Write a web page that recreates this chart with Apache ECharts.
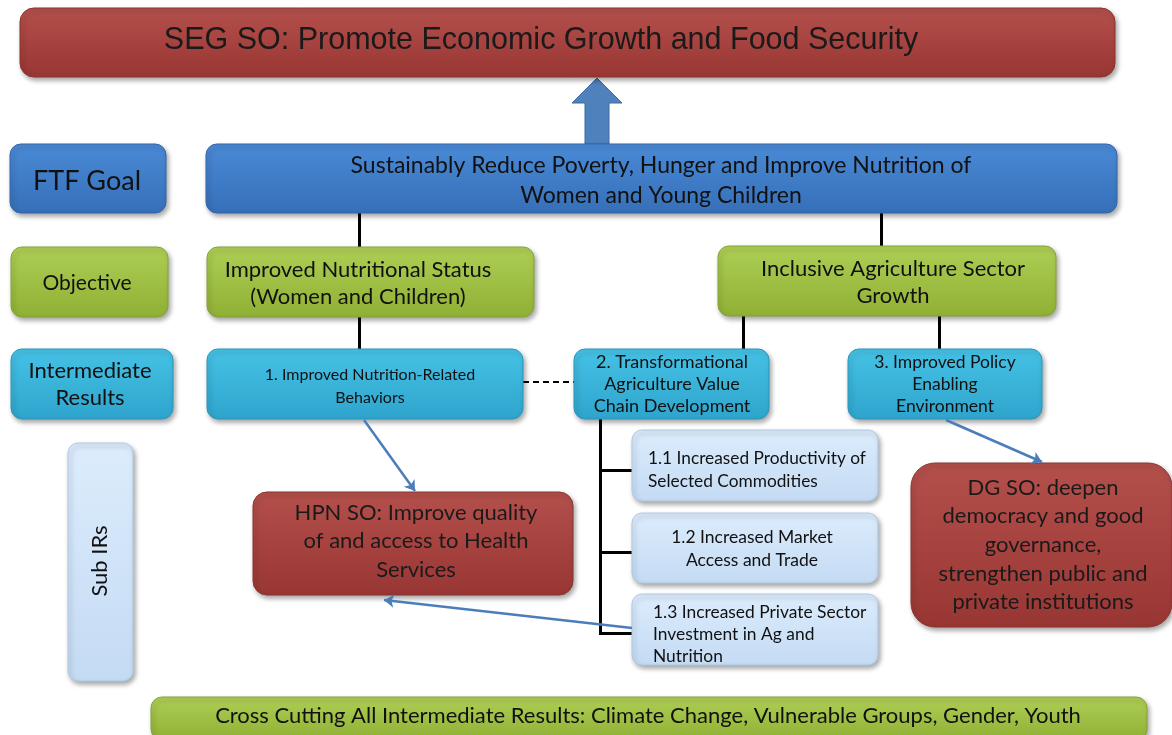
<!DOCTYPE html>
<html>
<head>
<meta charset="utf-8">
<script src="https://cdn.jsdelivr.net/npm/echarts@6/dist/echarts.min.js"></script>
<style>
  html, body { margin: 0; padding: 0; background: #fff; }
  #chart { width: 1172px; height: 735px; }
</style>
</head>
<body>
<div id="chart"></div>
<script>
// box labels
const boxLabels = [
  'SEG SO: Promote Economic Growth and Food Security',
  'FTF Goal',
  'Sustainably Reduce Poverty, Hunger and Improve Nutrition of\nWomen and Young Children',
  'Objective',
  'Improved Nutritional Status\n(Women and Children)',
  'Inclusive Agriculture Sector\nGrowth',
  'Intermediate\nResults',
  '1. Improved Nutrition-Related\nBehaviors',
  '2. Transformational\nAgriculture Value\nChain Development',
  '3. Improved Policy\nEnabling\nEnvironment',
  'Sub IRs',
  'HPN SO: Improve quality\nof and access to Health\nServices',
  '1.1 Increased Productivity of\nSelected Commodities',
  '1.2 Increased Market\nAccess and Trade',
  '1.3 Increased Private Sector\nInvestment in Ag and\nNutrition',
  'DG SO: deepen\ndemocracy and good\ngovernance,\nstrengthen public and\nprivate institutions',
  'Cross Cutting All Intermediate Results: Climate Change, Vulnerable Groups, Gender, Youth'
];
// box extents in diagram units: [left, top, right, bottom]
const boxLeft   = [20, 10, 206, 11, 207, 718, 11, 207, 574, 848, 68, 253, 632, 632, 632, 911, 151];
const boxTop    = [8, 144, 144, 247, 247, 246, 349, 349, 349, 349, 443, 492, 430, 513, 594, 463, 697];
const boxRight  = [1115, 166, 1117, 168, 534, 1056, 173, 523, 769, 1042, 133, 573, 878, 878, 878, 1172, 1147];
const boxBottom = [77, 213, 213, 317, 317, 316, 419, 419, 419, 419, 681, 595, 501, 583, 665, 627, 740];
const boxKind   = ['red', 'blue', 'blue', 'green', 'green', 'green', 'cyan', 'cyan', 'cyan', 'cyan',
                   'pale', 'red', 'pale', 'pale', 'pale', 'red', 'green'];
// label anchor points
const labelX = [541, 87, 661, 87, 358, 893, 90, 370, 672, 945, 100, 416, 648, 752, 653, 1043, 648];
const labelY = [41, 181, 181, 283, 283, 282, 384, 386, 384, 384, 561, 541, 470, 549, 634, 545, 716];

// connectors [x1, y1, x2, y2]
const treeLinks = [
  [359, 213, 359, 247], [881, 213, 881, 246], [359, 317, 359, 349],
  [743, 316, 743, 349], [939, 316, 939, 349],
  [600, 419, 600, 635], [600, 470, 632, 470], [600, 552, 632, 552], [600, 633, 632, 633]
];
const dashedLinks = [[523, 382, 574, 382]];
const arrowLinks = [[364, 420, 415, 491], [632, 628, 384, 600], [946, 420, 1042, 462]];
// big up arrow [x centre, bottom, top]
const upArrow = [[597, 144, 78]];

const palette = {
  red:   { top: '#b4504c', bottom: '#983633', stroke: '#8a3431', text: '#1a1a1a', r: 14 },
  blue:  { top: '#4a8ad6', bottom: '#366fb8', stroke: '#3565a6', text: '#111', r: 11 },
  green: { top: '#aecf55', bottom: '#8fb034', stroke: '#86a33a', text: '#111', r: 11 },
  cyan:  { top: '#46c2e6', bottom: '#2ea4cc', stroke: '#2b97bb', text: '#111', r: 11 },
  pale:  { top: '#dcecfc', bottom: '#c4dbf4', stroke: '#b0c8e2', text: '#111', r: 10 }
};
const fontSize = [30.5, 27, 23, 21, 22, 22, 22, 16, 18, 17.5, 22, 22, 17.3, 17.5, 17.4, 22, 22];
const lineH    = [30, 30, 30, 28, 27, 27, 27, 23, 22, 22, 22, 28.5, 23.5, 23, 22, 28.7, 22];
const align    = ['center', 'center', 'center', 'center', 'center', 'center', 'center', 'center', 'center',
                  'center', 'center', 'center', 'left', 'center', 'left', 'center', 'center'];

const boxData = boxLabels.map((n, i) => [boxLeft[i], boxTop[i], boxRight[i], boxBottom[i], labelX[i], labelY[i]]);
const toLines = arr => arr.map(a => ({ coords: [[a[0], a[1]], [a[2], a[3]]] }));

const chart = echarts.init(document.getElementById('chart'));
const option = {
  animation: false,
  grid: { left: 0, right: 0, top: 0, bottom: 0 },
  xAxis: { type: 'value', min: 0, max: 1172, show: false },
  yAxis: { type: 'value', min: 0, max: 735, inverse: true, show: false },
  series: [
    {
      type: 'custom',
      coordinateSystem: 'cartesian2d',
      data: upArrow,
      z: 1,
      renderItem: (params, api) => {
        const b = api.coord([api.value(0), api.value(1)]);
        const t = api.coord([api.value(0), api.value(2)]);
        const neck = t[1] + 25;
        return {
          type: 'polygon',
          shape: { points: [
            [b[0] - 12, b[1]], [b[0] - 12, neck], [b[0] - 25, neck], [t[0], t[1]],
            [b[0] + 25, neck], [b[0] + 12, neck], [b[0] + 12, b[1]]
          ] },
          style: { fill: '#4f81bd', stroke: '#3d6a9e', lineWidth: 1 }
        };
      }
    },
    {
      type: 'lines',
      coordinateSystem: 'cartesian2d',
      z: 2,
      data: toLines(treeLinks),
      lineStyle: { color: '#000', width: 3, opacity: 1 }
    },
    {
      type: 'lines',
      coordinateSystem: 'cartesian2d',
      z: 2,
      data: toLines(dashedLinks),
      lineStyle: { color: '#000', width: 2, type: [6, 4], opacity: 1 }
    },
    {
      type: 'custom',
      coordinateSystem: 'cartesian2d',
      data: boxData,
      z: 3,
      renderItem: (params, api) => {
        const i = params.dataIndex;
        const p1 = api.coord([api.value(0), api.value(1)]);
        const p2 = api.coord([api.value(2), api.value(3)]);
        const lp = api.coord([api.value(4), api.value(5)]);
        const pal = palette[boxKind[i]];
        const h = p2[1] - p1[1];
        return {
          type: 'group',
          children: [
            {
              type: 'rect',
              shape: { x: p1[0], y: p1[1], width: p2[0] - p1[0], height: h, r: h > 150 && boxKind[i] === 'red' ? 24 : pal.r },
              style: {
                fill: new echarts.graphic.LinearGradient(0, 0, 0, 1, [
                  { offset: 0, color: pal.top }, { offset: 1, color: pal.bottom }
                ]),
                stroke: pal.stroke,
                lineWidth: 1,
                shadowBlur: 5,
                shadowOffsetX: 2,
                shadowOffsetY: 3,
                shadowColor: 'rgba(0,0,0,0.35)'
              }
            },
            {
              type: 'text',
              x: lp[0],
              y: lp[1],
              rotation: i === 10 ? Math.PI / 2 : 0,
              style: {
                text: boxLabels[i],
                fontFamily: i === 0 ? 'Liberation Sans' : 'Lato',
                fontSize: fontSize[i],
                lineHeight: lineH[i],
                fill: pal.text,
                align: align[i],
                verticalAlign: 'middle'
              }
            }
          ]
        };
      }
    },
    {
      type: 'lines',
      coordinateSystem: 'cartesian2d',
      z: 4,
      data: toLines(arrowLinks),
      symbol: ['none', 'arrow'],
      symbolSize: 10,
      lineStyle: { color: '#4a7ebb', width: 2.5, opacity: 1 }
    }
  ]
};
chart.setOption(option);
</script>
</body>
</html>
